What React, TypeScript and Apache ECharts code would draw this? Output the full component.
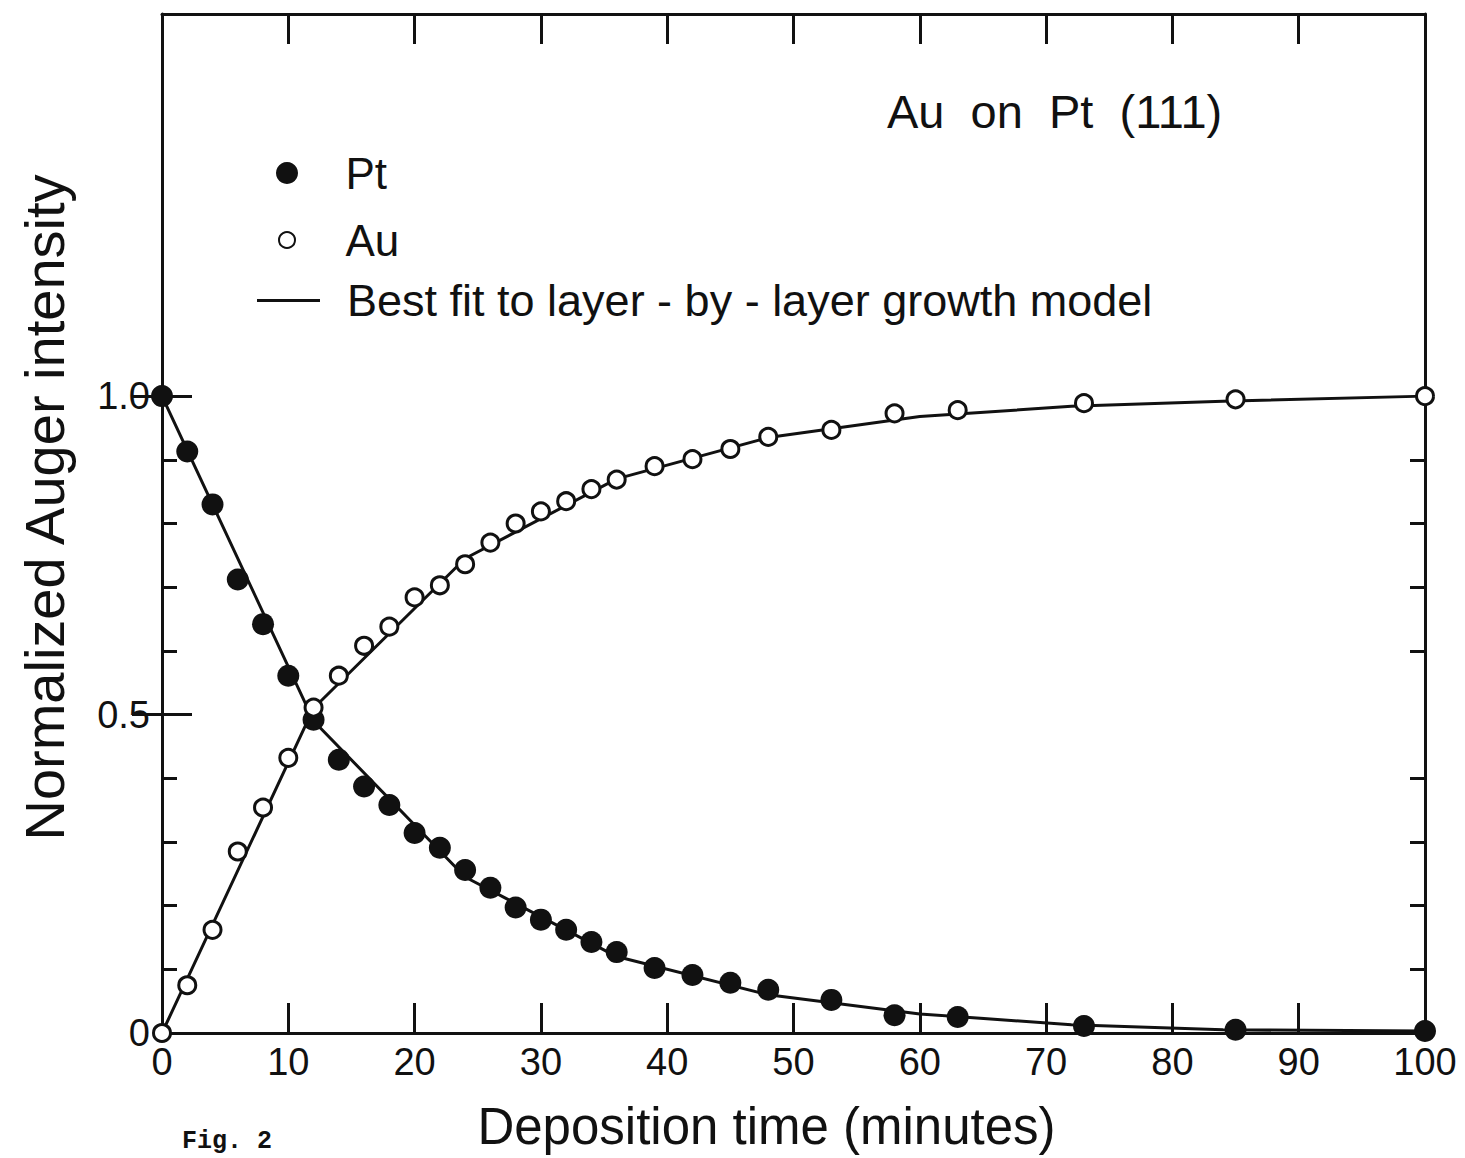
import React, { useEffect, useRef } from "react";
import * as echarts from "echarts";

// Deposition times (minutes) at which Auger intensities were measured
const depositionTime = [0, 2, 4, 6, 8, 10, 12, 14, 16, 18, 20, 22, 24, 26, 28, 30, 32, 34, 36, 39, 42, 45, 48, 53, 58, 63, 73, 85, 100];
// Normalized Pt substrate signal
const ptIntensity = [1.0, 0.913, 0.83, 0.712, 0.642, 0.561, 0.492, 0.429, 0.387, 0.358, 0.314, 0.291, 0.256, 0.228, 0.197, 0.178, 0.162, 0.143, 0.127, 0.102, 0.091, 0.079, 0.068, 0.052, 0.028, 0.025, 0.011, 0.005, 0.003];
// Normalized Au overlayer signal
const auIntensity = [0, 0.075, 0.162, 0.285, 0.354, 0.432, 0.511, 0.561, 0.608, 0.638, 0.684, 0.703, 0.736, 0.77, 0.8, 0.819, 0.835, 0.854, 0.869, 0.89, 0.901, 0.917, 0.936, 0.947, 0.973, 0.978, 0.989, 0.995, 1.0];

// Layer-by-layer growth model: break points at each completed monolayer
const fitTime = [0, 12, 24, 36, 48, 60, 72, 84, 100];
const ptFit = [1.0, 0.49, 0.245, 0.12, 0.06, 0.03, 0.013, 0.005, 0.003];
const auFit = [0, 0.51, 0.745, 0.87, 0.935, 0.968, 0.984, 0.992, 1.0];

// Axis ticks and labels
const xTickValues = [0, 10, 20, 30, 40, 50, 60, 70, 80, 90, 100];
const xInnerTicks = [10, 20, 30, 40, 50, 60, 70, 80, 90];
const yMinorTicks = [0.1, 0.2, 0.3, 0.4, 0.6, 0.7, 0.8, 0.9];
const yMajorTicks = [0.5, 1.0];
const yLabelValues = [0, 0.5, 1.0];

const FIT_NAME = "Best fit to layer - by - layer growth model";
const FONT = "'Liberation Sans', Arial, sans-serif";
const INK = "#111";

function pairs(xs: number[], ys: number[]) {
  return xs.map((x, i) => [x, ys[i]]);
}

export default function App() {
  const ref = useRef<HTMLDivElement>(null);

  useEffect(() => {
    if (!ref.current) return;
    const chart = echarts.init(ref.current, undefined, { renderer: "svg" });

    const tickLine = { color: INK, width: 3 };
    const hiddenLine = { show: false };

    const yBase = {
      type: "value" as const,
      min: 0,
      max: 1.6,
      interval: 0.1,
      splitLine: { show: false },
    };

    const legendText = (size: number) => ({
      color: INK,
      fontFamily: FONT,
      fontSize: size,
      padding: [0, 0, 0, 22],
    });

    chart.setOption({
      animation: false,
      backgroundColor: "#fff",
      title: [
        {
          text: "Au  on  Pt  (111)",
          left: 882,
          top: 83,
          textStyle: { color: INK, fontFamily: FONT, fontSize: 47, fontWeight: "normal" },
        },
        {
          text: "Fig. 2",
          left: 177,
          top: 1124,
          textStyle: { color: INK, fontFamily: "'Liberation Mono', monospace", fontSize: 25, fontWeight: "bold" },
        },
      ],
      legend: [
        {
          data: [{ name: "Pt" }],
          left: 276,
          top: 151,
          padding: 0,
          itemWidth: 63,
          itemHeight: 22,
          selectedMode: false,
          textStyle: legendText(44),
        },
        {
          data: [{ name: "Au" }],
          left: 278,
          top: 218,
          padding: 0,
          itemWidth: 63,
          itemHeight: 16,
          selectedMode: false,
          textStyle: legendText(44),
        },
        {
          data: [{ name: FIT_NAME, icon: "rect" }],
          left: 257,
          top: 278,
          padding: 0,
          itemWidth: 63,
          itemHeight: 3,
          selectedMode: false,
          itemStyle: { color: INK },
          textStyle: legendText(45),
        },
      ],
      grid: { left: 162, right: 40, top: 14, bottom: 125, containLabel: false },
      xAxis: [
        {
          type: "value",
          min: 0,
          max: 100,
          interval: 10,
          position: "bottom",
          name: "Deposition time (minutes)",
          nameLocation: "middle",
          nameGap: 68,
          nameTextStyle: { color: INK, fontFamily: FONT, fontSize: 51, padding: [0, 54, 0, 0] },
          axisLine: { show: true, onZero: false, lineStyle: tickLine },
          axisTick: { show: true, inside: true, length: 30, customValues: xInnerTicks, lineStyle: tickLine },
          axisLabel: { customValues: xTickValues, color: INK, fontFamily: FONT, fontSize: 38, margin: 10 },
          splitLine: { show: false },
        },
        {
          type: "value",
          min: 0,
          max: 100,
          interval: 10,
          position: "top",
          axisLine: { show: true, onZero: false, lineStyle: tickLine },
          axisTick: { show: true, inside: true, length: 30, customValues: xInnerTicks, lineStyle: tickLine },
          axisLabel: { show: false },
          splitLine: { show: false },
        },
      ],
      yAxis: [
        {
          ...yBase,
          position: "left",
          name: "Normalized Auger intensity",
          nameLocation: "middle",
          nameGap: 90,
          nameTextStyle: { color: INK, fontFamily: FONT, fontSize: 56, padding: [0, 0, 0, 32] },
          axisLine: { show: true, onZero: false, lineStyle: tickLine },
          axisTick: { show: true, inside: true, length: 15, customValues: yMinorTicks, lineStyle: tickLine },
          axisLabel: {
            customValues: yLabelValues,
            color: INK,
            fontFamily: FONT,
            fontSize: 38,
            margin: 12,
            formatter: (v: number) => (v === 0 ? "0" : v.toFixed(1)),
          },
        },
        {
          ...yBase,
          position: "left",
          axisLine: hiddenLine,
          axisTick: { show: true, inside: true, length: 30, customValues: yMajorTicks, lineStyle: tickLine },
          axisLabel: { show: false },
        },
        {
          ...yBase,
          position: "right",
          axisLine: { show: true, onZero: false, lineStyle: tickLine },
          axisTick: { show: true, inside: true, length: 15, customValues: yMinorTicks, lineStyle: tickLine },
          axisLabel: { show: false },
        },
        {
          ...yBase,
          position: "right",
          axisLine: hiddenLine,
          axisTick: { show: true, inside: true, length: 30, customValues: yMajorTicks, lineStyle: tickLine },
          axisLabel: { show: false },
        },
      ],
      series: [
        {
          name: FIT_NAME,
          type: "line",
          data: pairs(fitTime, ptFit),
          symbol: "none",
          lineStyle: { color: INK, width: 3 },
          itemStyle: { color: INK },
          z: 2,
        },
        {
          name: FIT_NAME,
          type: "line",
          data: pairs(fitTime, auFit),
          symbol: "none",
          lineStyle: { color: INK, width: 3 },
          itemStyle: { color: INK },
          z: 2,
        },
        {
          name: "Pt",
          type: "scatter",
          data: pairs(depositionTime, ptIntensity),
          symbol: "circle",
          symbolSize: 22,
          itemStyle: { color: INK, opacity: 1 },
          z: 3,
        },
        {
          name: "Au",
          type: "scatter",
          data: pairs(depositionTime, auIntensity),
          symbol: "circle",
          symbolSize: 17,
          itemStyle: { color: "#fff", borderColor: INK, borderWidth: 3, opacity: 1 },
          z: 4,
        },
      ],
    });

    return () => chart.dispose();
  }, []);

  return (
    <div
      ref={ref}
      style={{ position: "absolute", left: 0, top: 0, width: 1465, height: 1158, background: "#fff" }}
    />
  );
}
